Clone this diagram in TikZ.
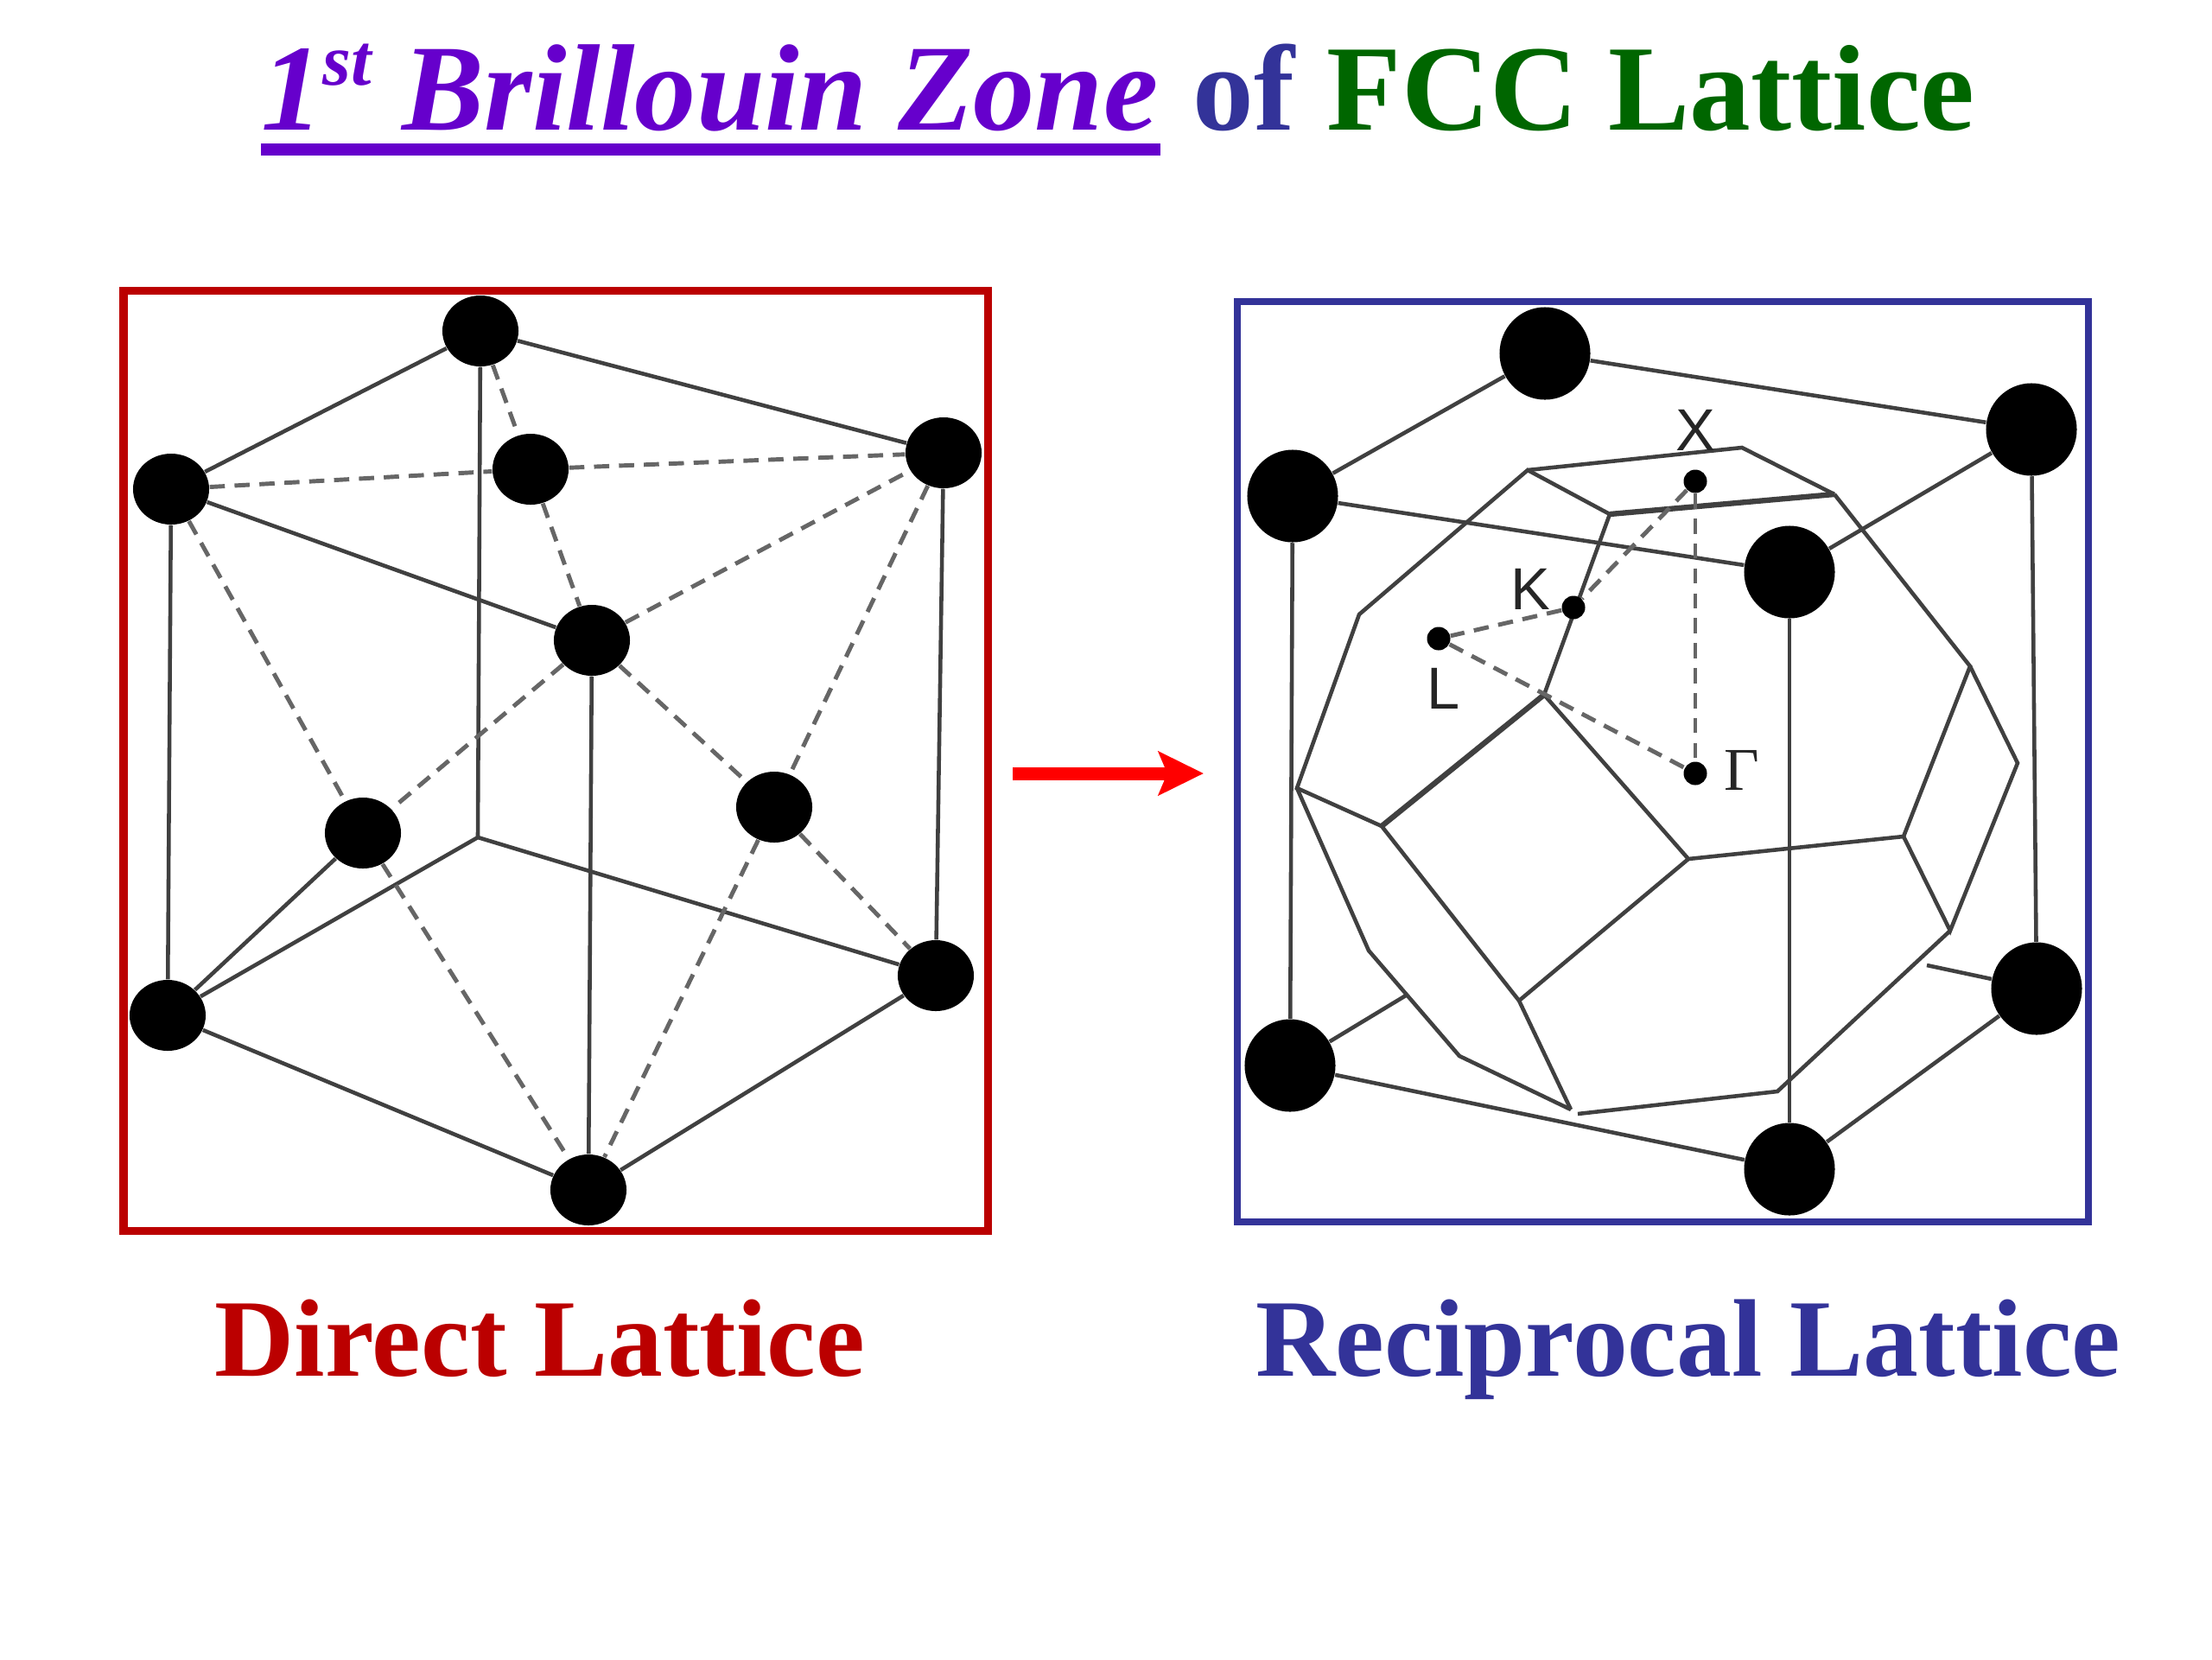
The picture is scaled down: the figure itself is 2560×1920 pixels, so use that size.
\documentclass[tikz,border=0pt]{standalone}
\usepackage{fontspec}
\setmainfont{Liberation Serif}
\setsansfont{Liberation Sans}
\usepackage{xcolor}
\usepackage{tikz}
\usetikzlibrary{positioning,arrows.meta,shapes.geometric}

\definecolor{zonepurple}{HTML}{6600CC}
\definecolor{ofblue}{HTML}{333399}
\definecolor{fccgreen}{HTML}{006600}
\definecolor{directred}{HTML}{BB0000}

\tikzset{
	atomL/.style={ellipse,fill=black,inner sep=0pt,minimum width=0.88cm,minimum height=0.82cm},
	atomR/.style={ellipse,fill=black,inner sep=0pt,minimum width=1.05cm,minimum height=1.07cm},
	kpoint/.style={circle,fill=black,inner sep=0pt,minimum size=0.27cm},
	kname/.style={font=\sffamily\fontsize{19.5}{20}\selectfont,text=black!85,inner sep=0pt},
	sline/.style={line width=1.3pt,draw=black!75},
	dline/.style={line width=1.4pt,draw=black!60,dash pattern=on 5pt off 3.2pt},
	heading/.style={inner sep=0pt,anchor=base west,font=\bfseries\fontsize{40.2}{44}\selectfont},
	caption/.style={inner sep=0pt,anchor=base west,font=\bfseries\fontsize{36.3}{40}\selectfont}
}

\begin{document}
\begin{tikzpicture}[x=0.01cm,y=-0.01cm]
	\useasboundingbox (0,0) rectangle (2560,1920);

	% title
	\node[heading,text=zonepurple,font=\bfseries\itshape\fontsize{40.5}{44}\selectfont] (zone) at (302,150)
		{1\raisebox{0.36em}{\fontsize{24}{26}\selectfont st} Brillouin Zone};
	\node[heading,text=ofblue] (of) at (1380,150) {of};
	\node[heading,text=fccgreen] (fcc) at (1535,150) {FCC Lattice};
	\draw[zonepurple,line width=0.14cm] ([yshift=-0.23cm]zone.base west) -- ([yshift=-0.23cm,xshift=0.02cm]zone.base east);

	% frames
	\draw[directred,line width=0.09cm] (143,336) rectangle (1143,1424);
	\draw[ofblue,line width=0.08cm] (1432,349) rectangle (2417,1414);

	% direct lattice
	\node[atomL] (top) at (556,383) {};
	\node[atomL] (tl) at (198,566) {};
	\node[atomL] (tr) at (1092,524) {};
	\node[atomL] (face) at (614,543) {};
	\node[atomL] (mid) at (685,741) {};
	\node[atomL] (lm) at (420,964) {};
	\node[atomL] (rm) at (896,934) {};
	\node[atomL] (bl) at (194,1175) {};
	\node[atomL] (br) at (1083,1129) {};
	\node[atomL] (bot) at (681,1377) {};
	\coordinate (back) at (553,969);

	\draw[sline] (top) -- (tl);
	\draw[sline] (top) -- (tr);
	\draw[sline] (top) -- (back);
	\draw[sline] (tl) -- (mid);
	\draw[sline] (tl) -- (bl);
	\draw[sline] (tr) -- (br);
	\draw[sline] (mid) -- (bot);
	\draw[sline] (back) -- (bl);
	\draw[sline] (back) -- (br);
	\draw[sline] (bl) -- (bot);
	\draw[sline] (br) -- (bot);
	\draw[sline] (lm) -- (bl);

	\draw[dline] (tl) -- (face);
	\draw[dline] (face) -- (tr);
	\draw[dline] (top) -- (face);
	\draw[dline] (face) -- (mid);
	\draw[dline] (mid) -- (tr);
	\draw[dline] (mid) -- (lm);
	\draw[dline] (mid) -- (rm);
	\draw[dline] (tl) -- (lm);
	\draw[dline] (lm) -- (bot);
	\draw[dline] (tr) -- (rm);
	\draw[dline] (rm) -- (br);
	\draw[dline] (rm) -- (bot);

	% arrow between the frames
	\coordinate (arrowA) at (1172,895);
	\coordinate (arrowB) at (1393,895);
	\draw[red,line width=0.15cm,-{Stealth[length=0.52cm,width=0.5cm,inset=0.1cm]}] (arrowA) -- (arrowB);

	% reciprocal lattice
	\node[atomR] (ra) at (1788,409) {};
	\node[atomR] (rb) at (1496,574) {};
	\node[atomR] (rc) at (2351,497) {};
	\node[atomR] (rd) at (2071,662) {};
	\node[atomR] (re) at (1493,1233) {};
	\node[atomR] (rf) at (2357,1144) {};
	\node[atomR] (rg) at (2071,1353) {};
	\coordinate (reEnd) at (1627,1152);
	\coordinate (rfEnd) at (2230,1117);

	\draw[sline] (ra) -- (rb);
	\draw[sline] (ra) -- (rc);
	\draw[sline] (rb) -- (rd);
	\draw[sline] (rd) -- (rc);
	\draw[sline] (rb) -- (re);
	\draw[sline] (rc) -- (rf);
	\draw[sline] (rd) -- (rg);
	\draw[sline] (re) -- (rg);
	\draw[sline] (rf) -- (rg);
	\draw[sline] (re) -- (reEnd);
	\draw[sline] (rf) -- (rfEnd);

	% zone vertices
	\coordinate (va) at (1768,544);
	\coordinate (vb) at (2016,518);
	\coordinate (vc) at (2123,572);
	\coordinate (vd) at (1863,595);
	\coordinate (ve) at (1787,804);
	\coordinate (vf) at (1573,711);
	\coordinate (vg) at (1501,912);
	\coordinate (vh) at (1599,956);
	\coordinate (vi) at (1954,994);
	\coordinate (vj) at (2203,968);
	\coordinate (vk) at (2280,771);
	\coordinate (vl) at (2335,883);
	\coordinate (vm) at (2257,1077);
	\coordinate (vn) at (2057,1263);
	\coordinate (vo) at (1826,1289);
	\coordinate (vp) at (1818,1284);
	\coordinate (vq) at (1584,1100);
	\coordinate (vr) at (1689,1222);
	\coordinate (vs) at (1758,1158);

	\draw[sline] (va) -- (vb) -- (vc);
	\draw[sline,line width=1.8pt] (vc) -- (vd);
	\draw[sline] (vd) -- (va) -- (vf) -- (vg) -- (vh);
	\draw[sline] (vd) -- (ve);
	\draw[sline,line width=1.8pt] (vh) -- (ve);
	\draw[sline] (ve) -- (vi) -- (vj) -- (vk) -- (vc);
	\draw[sline] (vk) -- (vl) -- (vm) -- (vj);
	\draw[sline] (vm) -- (vn) -- (vo);
	\draw[sline] (vg) -- (vq) -- (vr) -- (vp);
	\draw[sline] (vh) -- (vs) -- (vp);
	\draw[sline] (vs) -- (vi);

	% symmetry points
	\node[kpoint] (ptX) at (1962,557) {};
	\node[kpoint] (ptK) at (1821,703) {};
	\node[kpoint] (ptL) at (1665,739) {};
	\node[kpoint] (ptG) at (1962,895) {};

	\draw[dline] (ptX) -- (ptK);
	\draw[dline] (ptK) -- (ptL);
	\draw[dline] (ptL) -- (ptG);
	\draw[dline] (ptX) -- (ptG);

	\node[kname] (nameX) at (1962,498) {X};
	\node[kname] (nameK) at (1771,682) {K};
	\node[kname] (nameL) at (1671,797) {L};
	\node[kname,font=\fontsize{20}{20}\selectfont] (nameG) at (2016,891) {Γ};

	% captions
	\node[caption,text=directred] (direct) at (248,1592) {Direct Lattice};
	\node[caption,text=ofblue] (recip) at (1453,1592) {Reciprocal Lattice};
\end{tikzpicture}
\end{document}
